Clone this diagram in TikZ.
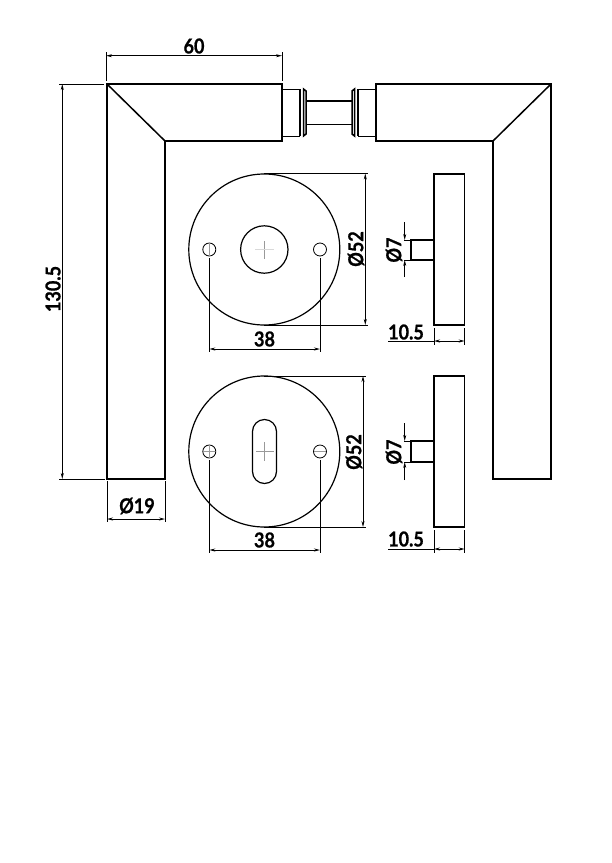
\documentclass[tikz,border=0pt]{standalone}
\usepackage{fontspec}
\setmainfont{Lato}[FakeStretch=0.88,BoldFeatures={FakeBold=0.8}]
\usetikzlibrary{arrows.meta}
\tikzset{
  outline/.style={line width=1.5pt,line join=miter},
  thinline/.style={line width=0.8pt},
  centreline/.style={line width=0.4pt,black!40},
  faintline/.style={line width=0.3pt,black!15},
  dimline/.style={line width=0.8pt,{Stealth[length=6pt,width=3pt]}-{Stealth[length=6pt,width=3pt]}},
  dimend/.style={line width=0.8pt,-{Stealth[length=6pt,width=3pt]}},
  dimtext/.style={font=\fontsize{20.5}{20.5}\selectfont\bfseries,inner sep=0pt},
}
\begin{document}
\begin{tikzpicture}[x=1pt,y=-1pt]
        \useasboundingbox (0,0) rectangle (612,863);
        \pgfmathsetmacro\rc{264.3}
        \pgfmathsetmacro\rr{75.5}
        \pgfmathsetmacro\hl{209.3}
        \pgfmathsetmacro\hr{320}
        % handles
        \coordinate (LT) at (107,84);
        \coordinate (LC) at (165,141);
        \coordinate (RT) at (551,84);
        \coordinate (RC) at (493,141);
        \draw[outline] (LT) -- (282,84) -- (282,141) -- (LC) -- (165,479) -- (107,479) -- cycle;
        \draw[outline] (LT) -- (LC);
        \draw[outline] (RT) -- (376,84) -- (376,141) -- (RC) -- (493,479) -- (551,479) -- cycle;
        \draw[outline] (RT) -- (RC);
        % spindle
        \draw[thinline] (282,89) -- (300,89) (282,136) -- (300,136);
        \draw[thinline] (376,89) -- (358,89) (376,136) -- (358,136);
        \draw[outline] (300,89) -- (300,136) (358,89) -- (358,136);
        \draw[outline] (303.5,89) -- (306,91) -- (306,134) -- (303.5,136) -- cycle;
        \draw[outline] (354.5,89) -- (352,91) -- (352,134) -- (354.5,136) -- cycle;
        \draw[outline] (306,101) -- (352,101);
        \draw[thinline] (306,124) -- (352,124);
        % upper rose
        \draw[outline,line width=1.2pt] (\rc,249.5) circle (\rr);
        \draw[outline,line width=1.2pt] (\rc,249.5) circle (23.7);
        \draw[thinline] (\hl,249.5) circle (6.5) (\hr,249.5) circle (6.5);
        \draw[centreline] (\rc,241) -- (\rc,259);
        \draw[faintline] (255,249.5) -- (274,249.5);
        \draw[centreline] (\hl,243) -- (\hl,256);
        % lower rose
        \draw[outline,line width=1.2pt] (\rc,451.5) circle (\rr);
        \draw[outline,line width=1.2pt] (252.5,431.5) arc (180:360:12) -- (276.5,471.5) arc (0:180:12) -- cycle;
        \draw[thinline] (\hl,451.5) circle (6.5) (\hr,451.5) circle (6.5);
        \draw[centreline] (\rc,442) -- (\rc,461) (256,451.5) -- (274,451.5);
        \draw[centreline] (\hl,445) -- (\hl,458) (203,451.5) -- (215,451.5) (314,451.5) -- (326,451.5);
        % side views
        \draw[outline] (434,174) rectangle (464.7,325);
        \draw[outline] (434,240) -- (411,240) -- (411,260) -- (434,260);
        \draw[outline] (434,376) rectangle (464.7,527);
        \draw[outline] (434,441) -- (411,441) -- (411,462) -- (434,462);
        % dimensions
        \draw[thinline] (106,52) -- (106,81) (282,52) -- (282,81);
        \draw[dimline] (106,55.7) -- (282,55.7);
        \node[dimtext] (d60) at (194,46) {60};
        \draw[thinline] (59,84) -- (104,84) (59,479) -- (105,479);
        \draw[dimline] (62.3,84) -- (62.3,479);
        \node[dimtext,rotate=90] (d130) at (53,289) {130.5};
        \draw[thinline] (107,481) -- (107,522) (165,481) -- (165,522);
        \draw[dimline] (107,519) -- (165,519);
        \node[dimtext] (d19) at (137,506) {Ø19};
        % upper rose dimensions
        \draw[thinline] (\rc,173.5) -- (368,173.5) (\rc,325) -- (368,325);
        \draw[dimline] (365.3,173.5) -- (365.3,325);
        \node[dimtext,rotate=90] (d52a) at (356,249) {Ø52};
        \draw[thinline] (\hl,258) -- (\hl,352) (\hr,258) -- (\hr,352);
        \draw[dimline] (\hl,349) -- (\hr,349);
        \node[dimtext] (d38a) at (264.5,339) {38};
        % lower rose dimensions
        \draw[thinline] (\rc,376) -- (366,376) (\rc,527) -- (366,527);
        \draw[dimline] (363,376) -- (363,527);
        \node[dimtext,rotate=90] (d52b) at (354,452) {Ø52};
        \draw[thinline] (\hl,460) -- (\hl,553) (\hr,460) -- (\hr,553);
        \draw[dimline] (\hl,550) -- (\hr,550);
        \node[dimtext] (d38b) at (264.5,540) {38};
        % side view dimensions
        \draw[thinline] (404,240) -- (410,240) (404,260) -- (410,260);
        \draw[dimend] (404.7,222) -- (404.7,240);
        \draw[dimend] (404.7,277) -- (404.7,260);
        \node[dimtext,rotate=90] (d7a) at (394,250) {Ø7};
        \draw[thinline] (404,441) -- (410,441) (404,462) -- (410,462);
        \draw[dimend] (404.7,423) -- (404.7,441);
        \draw[dimend] (404.7,480) -- (404.7,462);
        \node[dimtext,rotate=90] (d7b) at (394,452) {Ø7};
        \draw[thinline] (434,328) -- (434,345) (464.7,328) -- (464.7,345);
        \draw[thinline] (388,341) -- (434,341);
        \draw[dimline] (434,341) -- (464.7,341);
        \node[dimtext] (d105a) at (406,332) {10.5};
        \draw[thinline] (434,530) -- (434,553) (464.7,530) -- (464.7,553);
        \draw[thinline] (388,549) -- (434,549);
        \draw[dimline] (434,549) -- (464.7,549);
        \node[dimtext] (d105b) at (406,539) {10.5};
    \end{tikzpicture}
\end{document}
